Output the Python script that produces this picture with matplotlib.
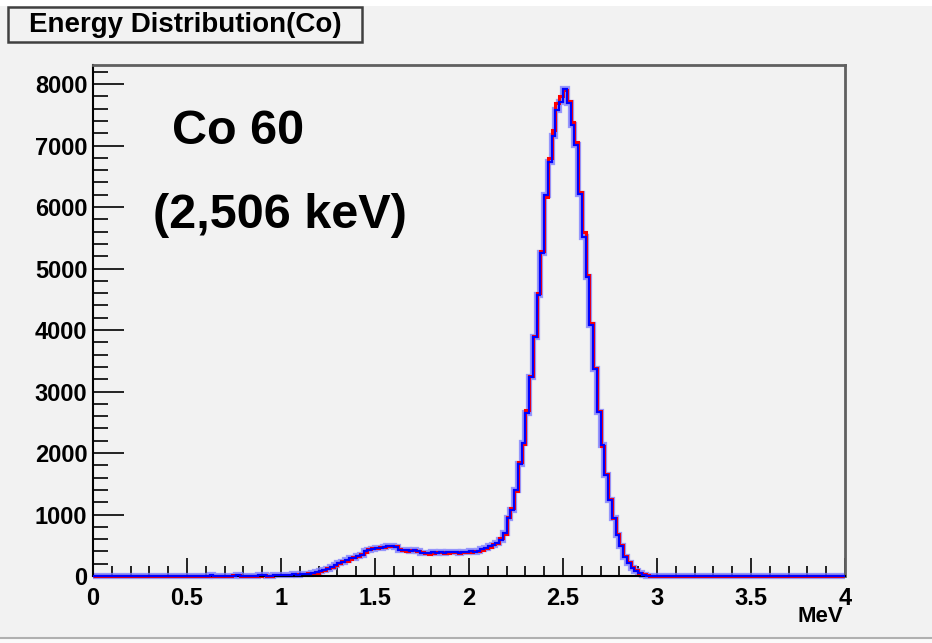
import numpy as np
import matplotlib
matplotlib.use("Agg")
import matplotlib.pyplot as plt
from matplotlib.ticker import MultipleLocator
from matplotlib.patches import Rectangle

# Histogram data: 200 bins of 0.02 MeV from 0 to 4 MeV.
# Counts listed from the bin starting at 0.60 MeV; all other bins are empty.
x_min, x_max, n_bins = 0.0, 4.0, 200
first_bin = 30  # 0.60 MeV

blue_counts = [
    0, 15, 5, 0, 0,          0, 0, 5, 10, 0,
    0, 0, 5, 0, 10,          15, 5, 0, 10, 15,
    10, 15, 20, 25, 20,      30, 35, 40, 45, 60,
    80, 100, 120, 150, 180,  210, 235, 255, 285, 300,
    330, 345, 400, 430, 445, 455, 460, 470, 480, 485,
    470, 430, 425, 420, 410, 420, 405, 380, 375, 370,
    385, 380, 390, 375, 385, 390, 385, 380, 395, 390,
    400, 395, 405, 440, 450, 480, 510, 540, 590, 700,
    940, 1080, 1400, 1820, 2160,   2650, 3240, 3890, 4570, 5250,
    6200, 6740, 7150, 7580, 7710,  7920, 7690, 7340, 7010, 6220,
    5520, 4870, 4080, 3360, 2670,  2130, 1640, 1240, 940, 670,
    480, 310, 210, 125, 80,        45, 20, 8, 0, 0,
]

red_counts = [
    0, 0, 0, 0, 0,           0, 0, 10, 10, 0,
    0, 0, 0, 5, 5,           10, 5, 5, 10, 10,
    15, 10, 20, 20, 25,      25, 35, 45, 40, 55,
    85, 95, 125, 145, 185,   205, 240, 250, 280, 310,
    325, 350, 390, 440, 450, 450, 465, 475, 495, 490,
    480, 440, 420, 410, 415, 415, 400, 385, 370, 365,
    380, 385, 385, 380, 380, 385, 390, 375, 390, 395,
    395, 400, 410, 430, 455, 470, 520, 540, 620, 690,
    960, 1110, 1380, 1860, 2150,   2700, 3260, 3910, 4600, 5280,
    6160, 6790, 7260, 7700, 7800,  7900, 7720, 7380, 7050, 6250,
    5600, 4900, 4110, 3380, 2690,  2120, 1660, 1260, 950, 690,
    500, 330, 220, 140, 90,        50, 25, 10, 0, 0,
]

title = "Energy Distribution(Co)"
x_label = "MeV"
note_lines = ["Co 60", "(2,506 keV)"]

edges = np.linspace(x_min, x_max, n_bins + 1)
blue = np.zeros(n_bins)
blue[first_bin:first_bin + len(blue_counts)] = blue_counts
red = np.zeros(n_bins)
red[first_bin:first_bin + len(red_counts)] = red_counts

bg = "#f2f2f2"
plt.rcParams['font.family'] = ['Liberation Sans', 'DejaVu Sans']
plt.rcParams['font.weight'] = 'bold'

fig = plt.figure(figsize=(9.32, 6.43), dpi=100, facecolor=bg)
W, H = 932, 643
ax = fig.add_axes([93 / W, 1 - 576 / H, (845 - 93) / W, (576 - 65) / H])
ax.set_facecolor(bg)

# wide light blue band, red histogram, blue histogram on top
ax.stairs(blue, edges, color="#7f7fff", linewidth=4.5, alpha=0.8, zorder=2, clip_on=False)
ax.stairs(red, edges, color="#ff0000", linewidth=2.2, zorder=2.2, clip_on=False)
ax.stairs(blue, edges, color="#0000ff", linewidth=1.6, zorder=3, clip_on=False)

ax.set_xlim(x_min, x_max)
ax.set_ylim(0, 8310)

ax.xaxis.set_major_locator(MultipleLocator(0.5))
ax.xaxis.set_minor_locator(MultipleLocator(0.1))
ax.yaxis.set_major_locator(MultipleLocator(1000))
ax.yaxis.set_minor_locator(MultipleLocator(200))
ax.xaxis.set_major_formatter(plt.FuncFormatter(lambda v, p: f"{v:g}"))

ax.tick_params(axis='x', which='major', direction='in', length=13, width=1.2, pad=8, labelsize=17)
ax.tick_params(axis='x', which='minor', direction='in', length=7, width=1.2)
ax.tick_params(axis='y', which='major', direction='in', length=22, width=1.2, pad=4, labelsize=17)
ax.tick_params(axis='y', which='minor', direction='in', length=11, width=1.2)
for lab in ax.get_xticklabels() + ax.get_yticklabels():
    lab.set_fontweight('bold')

for side in ['left', 'bottom']:
    ax.spines[side].set_color('black')
    ax.spines[side].set_linewidth(1.5)
for side in ['top', 'right']:
    ax.spines[side].set_color('#606060')
    ax.spines[side].set_linewidth(2)

fig.text(843 / W, 1 - 617 / H, x_label, ha='right', va='center',
         fontsize=16, fontweight='bold')

# annotation text
fig.text(172 / W, 1 - 131 / H, note_lines[0], ha='left', va='center',
         fontsize=35, fontweight='bold')
fig.text(153 / W, 1 - 215 / H, note_lines[1], ha='left', va='center',
         fontsize=35, fontweight='bold')

# title box
fig.patches.append(Rectangle((8 / W, 1 - 42 / H), 354 / W, 35 / H,
                             transform=fig.transFigure, facecolor=bg,
                             edgecolor='#404040', linewidth=1.8))
fig.text(185 / W, 1 - 25 / H, title, ha='center', va='center',
         fontsize=20, fontweight='bold')

# white strip on top and frame line at bottom
fig.patches.append(Rectangle((0, 1 - 6 / H), 1, 6 / H, transform=fig.transFigure,
                             facecolor='white', edgecolor='none'))
fig.patches.append(Rectangle((0, 0), 1, 5 / H, transform=fig.transFigure,
                             facecolor='#fafafa', edgecolor='none'))
fig.add_artist(plt.Line2D([0, 1], [5 / H, 5 / H], transform=fig.transFigure,
                          color='#b0b0b0', linewidth=1.5))

fig.savefig("out.png", dpi=100, facecolor=bg)
